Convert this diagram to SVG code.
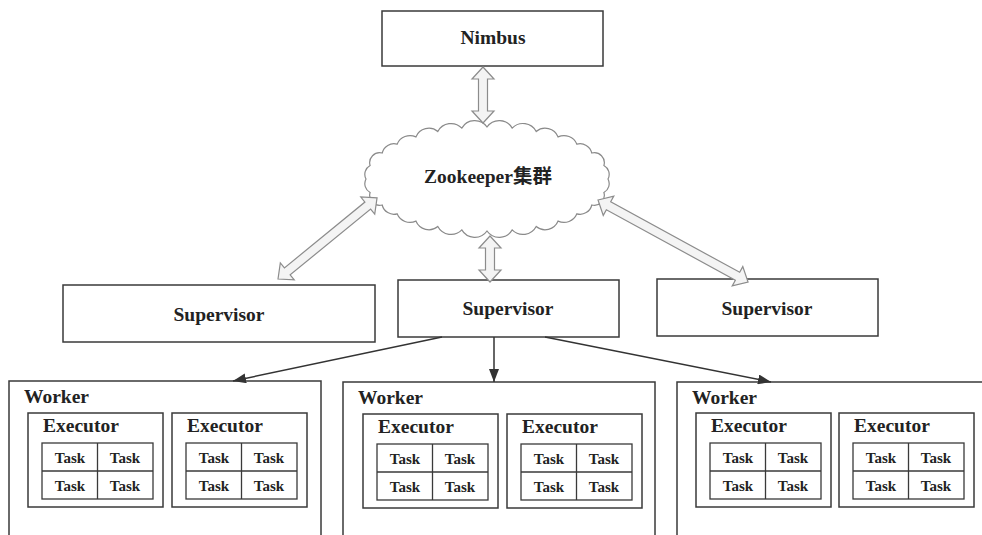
<svg xmlns="http://www.w3.org/2000/svg" width="982" height="535" viewBox="0 0 982 535">
<style>
  .box { fill: #fff; stroke: #3a3a3a; stroke-width: 1.5; }
  .grid { fill: none; stroke: #3a3a3a; stroke-width: 1.3; }
  .t { font-family: "Liberation Serif", "Noto Sans CJK SC", serif; font-weight: bold; fill: #222; }
  .big { font-size: 19.5px; }
  .task { font-size: 15px; text-anchor: middle; }
  .mid { text-anchor: middle; }
  .cloud { fill: #fff; stroke: #8a8a8a; stroke-width: 1.2; }
  .darr { fill: #f4f4f4; stroke: #8c8c8c; stroke-width: 1.2; stroke-linejoin: miter; }
  .conn { stroke: #333; stroke-width: 1.5; fill: none; marker-end: url(#ah); }
</style>
<defs>
  <marker id="ah" markerUnits="userSpaceOnUse" markerWidth="14" markerHeight="10" refX="13" refY="5" orient="auto">
    <path d="M0,0 L13,5 L0,10 z" fill="#333"/>
  </marker>
  <g id="exec">
    <rect class="box" x="0" y="0" width="135" height="94"/>
    <text class="t big" x="15" y="19">Executor</text>
    <rect class="grid" x="14" y="30" width="111" height="56"/>
    <line class="grid" x1="69.5" y1="30" x2="69.5" y2="86"/>
    <line class="grid" x1="14" y1="58" x2="125" y2="58"/>
    <text class="t task" x="42" y="50">Task</text>
    <text class="t task" x="97" y="50">Task</text>
    <text class="t task" x="42" y="78">Task</text>
    <text class="t task" x="97" y="78">Task</text>
  </g>
</defs>
<rect width="982" height="535" fill="#fff"/>

<g id="nimbus">
  <rect class="box" x="382" y="11" width="221" height="55"/>
  <text class="t big mid" x="493" y="44">Nimbus</text>
</g>

<g id="zookeeper">
  <path class="cloud" d="M608,179 A10,10 0 0 1 603.9,192.5 A10,10 0 0 1 591.8,205 A12,12 0 0 1 576.9,213.8 A14,14 0 0 1 558.1,221.1 A14,14 0 0 1 536.2,226.5 A15,15 0 0 1 512.2,229.9 A15,15 0 0 1 487,231 A15,15 0 0 1 461.8,229.9 A15,15 0 0 1 437.8,226.5 A14,14 0 0 1 415.9,221.1 A14,14 0 0 1 397.1,213.8 A12,12 0 0 1 382.2,205 A10,10 0 0 1 370.1,192.5 A10,10 0 0 1 366,179 A10,10 0 0 1 370.1,165.5 A10,10 0 0 1 382.2,153 A12,12 0 0 1 397.1,144.2 A14,14 0 0 1 415.9,136.9 A14,14 0 0 1 437.8,131.5 A15,15 0 0 1 461.8,128.1 A15,15 0 0 1 487,127 A15,15 0 0 1 512.2,128.1 A15,15 0 0 1 536.2,131.5 A14,14 0 0 1 558.1,136.9 A14,14 0 0 1 576.9,144.2 A12,12 0 0 1 591.8,153 A10,10 0 0 1 603.9,165.5 A10,10 0 0 1 608,179 Z"/>
  <text class="t big mid" x="488" y="183">Zookeeper集群</text>
</g>

<g id="supervisor-left">
  <rect class="box" x="63" y="285" width="312" height="57"/>
  <text class="t big mid" x="219" y="321">Supervisor</text>
</g>
<g id="supervisor-middle">
  <rect class="box" x="398" y="280" width="221" height="57"/>
  <text class="t big mid" x="508" y="315">Supervisor</text>
</g>
<g id="supervisor-right">
  <rect class="box" x="657" y="279" width="221" height="57"/>
  <text class="t big mid" x="767" y="315">Supervisor</text>
</g>

<g id="worker-left" transform="translate(9,381)">
  <rect class="box" x="0" y="0" width="312" height="170"/>
  <text class="t big" x="15" y="22">Worker</text>
  <use href="#exec" x="19" y="32"/>
  <use href="#exec" x="163" y="32"/>
</g>
<g id="worker-middle" transform="translate(343,382)">
  <rect class="box" x="0" y="0" width="312" height="170"/>
  <text class="t big" x="15" y="22">Worker</text>
  <use href="#exec" x="20" y="32"/>
  <use href="#exec" x="164" y="32"/>
</g>
<g id="worker-right" transform="translate(677,382)">
  <rect class="box" x="0" y="0" width="312" height="170"/>
  <text class="t big" x="15" y="22">Worker</text>
  <use href="#exec" x="19" y="31"/>
  <use href="#exec" x="162" y="31"/>
</g>

<g id="connectors">
  <polygon class="darr" transform="translate(483,67) rotate(90)" points="0,0 12,-11 12,-4.5 44,-4.5 44,-11 56,0 44,11 44,4.5 12,4.5 12,11"/>
  <polygon class="darr" transform="translate(490,236) rotate(90)" points="0,0 12,-11 12,-4.5 34,-4.5 34,-11 46,0 34,11 34,4.5 12,4.5 12,11"/>
  <polygon class="darr" transform="translate(278,279) rotate(-39.3)" points="0,0 12,-11 12,-4.5 116,-4.5 116,-11 128,0 116,11 116,4.5 12,4.5 12,11"/>
  <polygon class="darr" transform="translate(598,200) rotate(28.66)" points="0,0 12,-11 12,-4.5 159,-4.5 159,-11 171,0 159,11 159,4.5 12,4.5 12,11"/>
  <line class="conn" x1="442" y1="337" x2="233" y2="381"/>
  <line class="conn" x1="494" y1="337" x2="494" y2="382"/>
  <line class="conn" x1="545" y1="337" x2="771" y2="382"/>
</g>
</svg>
